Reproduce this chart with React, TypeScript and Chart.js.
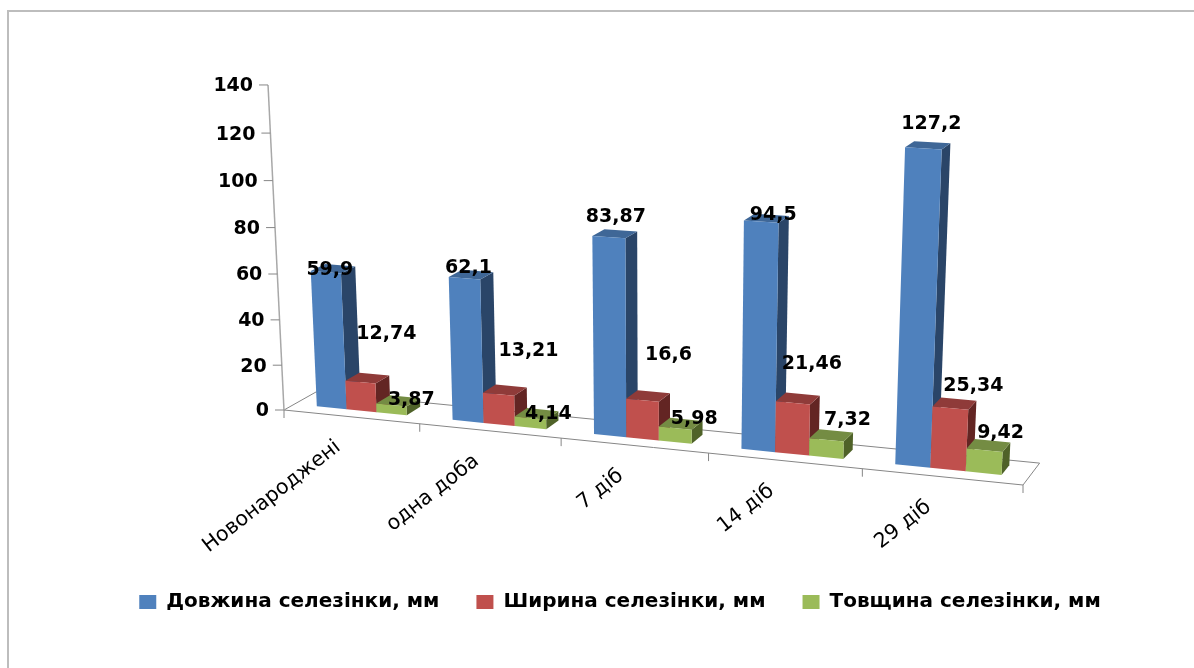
import React, { useEffect, useRef } from "react";
import { Chart, registerables } from "chart.js";

Chart.register(...registerables);

const categories = ["Новонароджені", "одна доба", "7 діб", "14 діб", "29 діб"];
const seriesNames = ["Довжина селезінки, мм", "Ширина селезінки, мм", "Товщина селезінки, мм"];
const lengthValues = [59.9, 62.1, 83.87, 94.5, 127.2];
const widthValues = [12.74, 13.21, 16.6, 21.46, 25.34];
const thicknessValues = [3.87, 4.14, 5.98, 7.32, 9.42];

// Faces of the 3D columns: front, top, side
const blueFaces = ["#4F81BD", "#3F6797", "#2A4568"];
const redFaces = ["#C0504D", "#8F3B39", "#632523"];
const greenFaces = ["#9BBB59", "#748C43", "#4F6228"];
const faces = [blueFaces, redFaces, greenFaces];

// Where Excel left each data label, relative to the top of its column
const labelShift = [
  [[4, -2], [4, -10], [7, -20], [12, -7], [8, -24]],
  [[26, -48], [30, -43], [26, -45], [19, -39], [23, -22]],
  [[20, -5], [18, -4], [19, -9], [21, -20], [16, -17]],
];

const FONT = '"DejaVu Sans"';
const AXIS_GREY = "#868686";
const DEPTH_FRONT = 0.33;
const DEPTH_BACK = 0.78;

// Camera: (s along categories, t up the value axis, d into the depth) -> screen
function project(s: number, t: number, d: number): [number, number] {
  const w = 1 - 0.1 * s - 0.0408 * t + 0.0236 * d;
  return [
    (284 + 636.7 * s - 26.9 * t + 39.5 * d) / w,
    (410 + 26.5 * s - 328.5 * t - 8.77 * d) / w,
  ];
}

function poly(ctx: CanvasRenderingContext2D, pts: [number, number][], fill: string) {
  ctx.beginPath();
  pts.forEach((p, i) => (i ? ctx.lineTo(p[0], p[1]) : ctx.moveTo(p[0], p[1])));
  ctx.closePath();
  ctx.fillStyle = fill;
  ctx.fill();
}

function line(ctx: CanvasRenderingContext2D, a: [number, number], b: [number, number]) {
  ctx.beginPath();
  ctx.moveTo(a[0], a[1]);
  ctx.lineTo(b[0], b[1]);
  ctx.stroke();
}

const perspectivePlugin = {
  id: "perspective",
  beforeDatasetsDraw(chart: any) {
    const { ctx, chartArea: area, scales } = chart;
    const sOf = (px: number) => (px - area.left) / (area.right - area.left);
    const tOf = (py: number) => (area.bottom - py) / (area.bottom - area.top);
    const n = categories.length;

    ctx.save();
    // Floor and axes
    ctx.strokeStyle = AXIS_GREY;
    ctx.lineWidth = 1;
    line(ctx, project(0, 0, 0), project(1, 0, 0));
    line(ctx, project(0, 0, 0), project(0, 0, 1));
    line(ctx, project(0, 0, 1), project(1, 0, 1));
    line(ctx, project(1, 0, 0), project(1, 0, 1));
    ctx.strokeStyle = "#A8A8A8";
    ctx.lineWidth = 1.5;
    line(ctx, project(0, 0, 0), project(0, 1, 0));
    ctx.lineWidth = 1;
    ctx.strokeStyle = AXIS_GREY;
    for (let i = 0; i <= n; i++) {
      const p = project(i / n, 0, 0);
      line(ctx, p, [p[0], p[1] + 8]);
    }

    // Value axis ticks and labels
    ctx.font = `bold 19px ${FONT}`;
    ctx.fillStyle = "#000";
    ctx.textAlign = "right";
    ctx.textBaseline = "middle";
    scales.y.ticks.forEach((tick: any) => {
      const p = project(0, tOf(scales.y.getPixelForValue(tick.value)), 0);
      line(ctx, p, [p[0] - 9, p[1]]);
      ctx.fillText(String(tick.value), p[0] - 15, p[1] + 1.5);
    });

    // Category labels
    ctx.font = `20.5px ${FONT}`;
    scales.x.getLabels().forEach((label: string, i: number) => {
      const p = project(sOf(scales.x.getPixelForTick(i)), 0, 0);
      ctx.save();
      ctx.translate(p[0] - 13, p[1] + 28);
      ctx.rotate((-38 * Math.PI) / 180);
      ctx.fillText(label, 0, 0);
      ctx.restore();
    });

    // Columns, left to right and back to front inside each group
    const metas = chart.data.datasets.map((_: any, i: number) => chart.getDatasetMeta(i));
    for (let c = 0; c < n; c++) {
      metas.forEach((meta: any, k: number) => {
        const bar = meta.data[c];
        const l = sOf(bar.x - bar.width / 2);
        const r = sOf(bar.x + bar.width / 2);
        const t = tOf(bar.y);
        const [front, top, side] = faces[k];
        poly(ctx, [project(r, 0, DEPTH_FRONT), project(r, 0, DEPTH_BACK), project(r, t, DEPTH_BACK), project(r, t, DEPTH_FRONT)], side);
        poly(ctx, [project(l, t, DEPTH_FRONT), project(r, t, DEPTH_FRONT), project(r, t, DEPTH_BACK), project(l, t, DEPTH_BACK)], top);
        poly(ctx, [project(l, 0, DEPTH_FRONT), project(r, 0, DEPTH_FRONT), project(r, t, DEPTH_FRONT), project(l, t, DEPTH_FRONT)], front);
      });
    }

    // Data labels
    ctx.font = `bold 19px ${FONT}`;
    ctx.fillStyle = "#000";
    ctx.textAlign = "center";
    ctx.textBaseline = "middle";
    metas.forEach((meta: any, k: number) => {
      meta.data.forEach((bar: any, c: number) => {
        const p = project(sOf(bar.x), tOf(bar.y), DEPTH_FRONT);
        const value = chart.data.datasets[k].data[c];
        const [dx, dy] = labelShift[k][c];
        ctx.fillText(String(value).replace(".", ","), p[0] + dx, p[1] + dy);
      });
    });
    ctx.restore();
    return false;
  },
};

export default function App() {
  const ref = useRef<HTMLCanvasElement>(null);
  useEffect(() => {
    const chart = new Chart(ref.current!, {
      type: "bar",
      data: {
        labels: categories,
        datasets: [
          { label: seriesNames[0], data: lengthValues, backgroundColor: blueFaces[0] },
          { label: seriesNames[1], data: widthValues, backgroundColor: redFaces[0] },
          { label: seriesNames[2], data: thicknessValues, backgroundColor: greenFaces[0] },
        ],
      },
      options: {
        responsive: false,
        animation: false,
        layout: { padding: { left: 46, right: 0, top: 0, bottom: 46 } },
        datasets: { bar: { categoryPercentage: 0.667, barPercentage: 1 } },
        scales: {
          x: { display: false },
          y: { display: false, min: 0, max: 140, ticks: { stepSize: 20 } },
        },
        plugins: {
          tooltip: { enabled: false },
          legend: {
            position: "bottom",
            labels: {
              font: { family: FONT, size: 20, weight: "bold" },
              color: "#000",
              boxWidth: 17,
              boxHeight: 14,
              padding: 37,
            },
          },
        },
      } as any,
      plugins: [perspectivePlugin as any],
    });
    return () => chart.destroy();
  }, []);
  return (
    <div style={{ position: "fixed", left: 0, top: 0, width: 1194, height: 668, background: "#fff", overflow: "hidden" }}>
      <div
        style={{
          position: "absolute",
          left: 7,
          top: 10,
          right: 0,
          bottom: 0,
          borderLeft: "2px solid #BDBDBD",
          borderTop: "2px solid #BDBDBD",
        }}
      />
      <canvas ref={ref} width={1194} height={668} style={{ position: "absolute", left: 0, top: 0 }} />
    </div>
  );
}
